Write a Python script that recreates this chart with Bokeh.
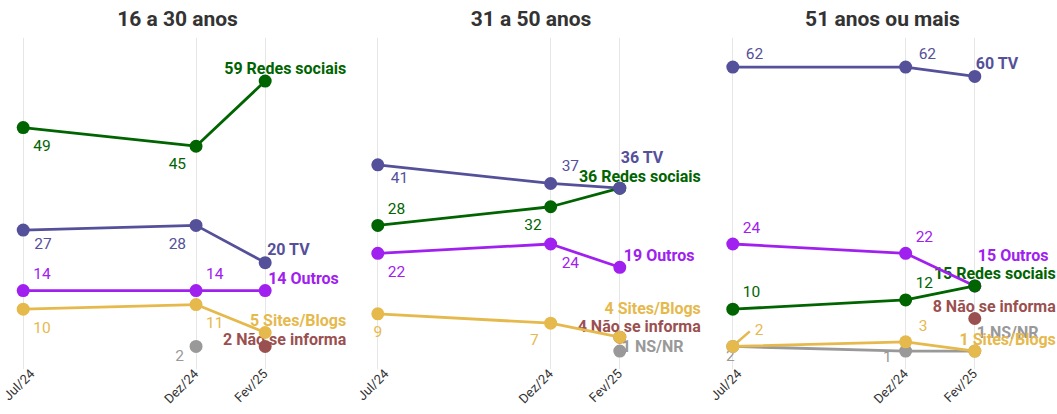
import math
import pandas as pd
from bokeh.plotting import figure
from bokeh.layouts import row
from bokeh.models import Range1d, FixedTicker
from bokeh.core.properties import value
from bokeh.embed import file_html
from bokeh.resources import INLINE

# ---------------- data ----------------
periods = ["2024-07", "2024-12", "2025-02"]
tick_labels = ["Jul/24", "Dez/24", "Fev/25"]
panel_titles = ["16 a 30 anos", "31 a 50 anos", "51 anos ou mais"]

# 16 a 30 anos
tv_16_30 = [27, 28, 20]
redes_16_30 = [49, 45, 59]
outros_16_30 = [14, 14, 14]
sites_16_30 = [10, 11, 5]
nao_informa_16_30 = [None, None, 2]
nsnr_16_30 = [None, 2, None]

# 31 a 50 anos
tv_31_50 = [41, 37, 36]
redes_31_50 = [28, 32, 36]
outros_31_50 = [22, 24, 19]
sites_31_50 = [9, 7, 4]
nao_informa_31_50 = [None, None, 4]
nsnr_31_50 = [None, None, 1]

# 51 anos ou mais
tv_51 = [62, 62, 60]
redes_51 = [10, 12, 15]
outros_51 = [24, 22, 15]
sites_51 = [2, 3, 1]
nao_informa_51 = [None, None, 8]
nsnr_51 = [2, 1, 1]

panels = [
    {"NS/NR": nsnr_16_30, "Não se informa": nao_informa_16_30, "Sites/Blogs": sites_16_30,
     "Outros": outros_16_30, "Redes sociais": redes_16_30, "TV": tv_16_30},
    {"NS/NR": nsnr_31_50, "Não se informa": nao_informa_31_50, "Sites/Blogs": sites_31_50,
     "Outros": outros_31_50, "Redes sociais": redes_31_50, "TV": tv_31_50},
    {"NS/NR": nsnr_51, "Não se informa": nao_informa_51, "Sites/Blogs": sites_51,
     "Outros": outros_51, "Redes sociais": redes_51, "TV": tv_51},
]

# ---------------- style ----------------
colors = {
    "TV": "#55509a",
    "Redes sociais": "#006400",
    "Outros": "#a020f0",
    "Sites/Blogs": "#e6b94d",
    "Não se informa": "#9b5050",
    "NS/NR": "#999999",
}
FONT = "Roboto"
PX_PER_MONTH = 34.57
PX_PER_UNIT = 4.637
END_RIGHT_PX = 81

# label placement: (series, point index, dx px, dy px, align); "edge" = right aligned at panel edge
placements = [
    [
        ("TV", 0, 11, 13, "left"), ("TV", 1, -10, 18, "right"), ("TV", 2, 2, -13, "left"),
        ("Redes sociais", 0, 10, 18, "left"), ("Redes sociais", 1, -10, 17, "right"), ("Redes sociais", 2, None, -13, "edge"),
        ("Outros", 0, 10, -17, "left"), ("Outros", 1, 10, -17, "left"), ("Outros", 2, 3, -12, "left"),
        ("Sites/Blogs", 0, 10, 18, "left"), ("Sites/Blogs", 1, 10, 18, "left"), ("Sites/Blogs", 2, None, -12, "edge"),
        ("Não se informa", 2, None, -7, "edge"),
        ("NS/NR", 1, -12, 9, "right"),
    ],
    [
        ("TV", 0, 13, 13, "left"), ("TV", 1, 11, -18, "left"), ("TV", 2, 1, -31, "left"),
        ("Redes sociais", 0, 10, -17, "left"), ("Redes sociais", 1, -9, 18, "right"), ("Redes sociais", 2, None, -12, "edge"),
        ("Outros", 0, 10, 18, "left"), ("Outros", 1, 11, 18, "left"), ("Outros", 2, 4, -12, "left"),
        ("Sites/Blogs", 0, 0, 18, "center"), ("Sites/Blogs", 1, -12, 16, "right"), ("Sites/Blogs", 2, None, -29, "edge"),
        ("Não se informa", 2, None, -11, "edge"),
        ("NS/NR", 2, 2, -5, "left"),
    ],
    [
        ("TV", 0, 13, -14, "left"), ("TV", 1, 13, -14, "left"), ("TV", 2, 1, -13, "left"),
        ("Outros", 0, 10, -17, "left"), ("Outros", 1, 10, -17, "left"), ("Outros", 2, 3, -30, "left"),
        ("Redes sociais", 0, 10, -18, "left"), ("Redes sociais", 1, 10, -17, "left"), ("Redes sociais", 2, None, -12, "edge"),
        ("Não se informa", 2, None, -12, "edge"),
        ("NS/NR", 0, 2, 9, "right"), ("NS/NR", 1, -14, 5, "right"), ("NS/NR", 2, 2, -19, "left"),
        ("Sites/Blogs", 0, 22, -17, "left"), ("Sites/Blogs", 1, 13, -16, "left"), ("Sites/Blogs", 2, None, -12, "edge"),
    ],
]
# figure layout: (width, px of first tick from figure left)
layout = [(354, 22.7), (353, 23.3), (350, 25.3)]

base = pd.Period("2024-01", "M")
xs = [(pd.Period(s, "M") - base).n for s in periods]

figs = []
for k in range(3):
    width, first_px = layout[k]
    x0 = xs[0] - first_px / PX_PER_MONTH
    p = figure(width=width, height=414, output_backend="svg", toolbar_location=None,
               x_range=Range1d(x0, x0 + width / PX_PER_MONTH),
               y_range=Range1d(-2.95, 68.35), y_axis_location=None,
               min_border_left=0, min_border_right=0, min_border_top=37, min_border_bottom=0)
    p.outline_line_color = None
    p.title.text = panel_titles[k]
    p.title.align = "center"
    p.title.vertical_align = "top"
    p.title.text_font = FONT
    p.title.text_font_size = "21px"
    p.title.text_font_style = "bold"
    p.title.text_color = "#333333"
    p.title.standoff = 10

    ax = p.xaxis[0]
    ax.ticker = FixedTicker(ticks=xs)
    ax.major_label_overrides = {x: lab for x, lab in zip(xs, tick_labels)}
    ax.major_label_orientation = math.pi / 4
    ax.major_label_text_font = FONT
    ax.major_label_text_font_size = "13px"
    ax.major_label_text_color = "#333333"
    ax.axis_line_color = None
    ax.major_tick_line_color = None
    ax.minor_tick_line_color = None
    ax.major_tick_out = 0
    ax.major_tick_in = 0
    ax.minor_tick_out = 0
    ax.major_label_standoff = 2
    p.xgrid.grid_line_color = "#e6e6e6"
    p.ygrid.visible = False

    data = panels[k]
    # labels first (drawn beneath lines)
    for (name, i, dx, dy, align) in placements[k]:
        v = data[name][i]
        is_end = (i == 2)
        txt = f"{v} {name}" if is_end else f"{v}"
        if align == "edge":
            dx, align = END_RIGHT_PX, "right"
        p.text(x=[xs[i]], y=[v], text=[txt], x_offset=dx, y_offset=dy,
               text_align=align, text_baseline="middle",
               text_font=value(FONT), text_font_size="16px" if is_end else "15.5px",
               text_font_style="bold" if is_end else "normal",
               text_color=colors[name])
    # leader line for the small "2" label in the last panel
    if k == 2:
        v = data["Sites/Blogs"][0]
        p.segment(x0=[xs[0] + 3 / PX_PER_MONTH], y0=[v + 3 / PX_PER_UNIT],
                  x1=[xs[0] + 17 / PX_PER_MONTH], y1=[v + 15 / PX_PER_UNIT],
                  line_color=colors["Sites/Blogs"], line_width=2.5)

    for name in ["NS/NR", "Não se informa", "Sites/Blogs", "Outros", "Redes sociais", "TV"]:
        pts = [(x, v) for x, v in zip(xs, data[name]) if v is not None]
        px_ = [a for a, _ in pts]
        py_ = [b for _, b in pts]
        if len(pts) > 1:
            p.line(px_, py_, line_color=colors[name], line_width=2.8)
        p.scatter(px_, py_, size=13, fill_color=colors[name], line_color=None)
    figs.append(p)

page = row(*figs, spacing=0)
open("out.html", "w").write(file_html(page, INLINE))
